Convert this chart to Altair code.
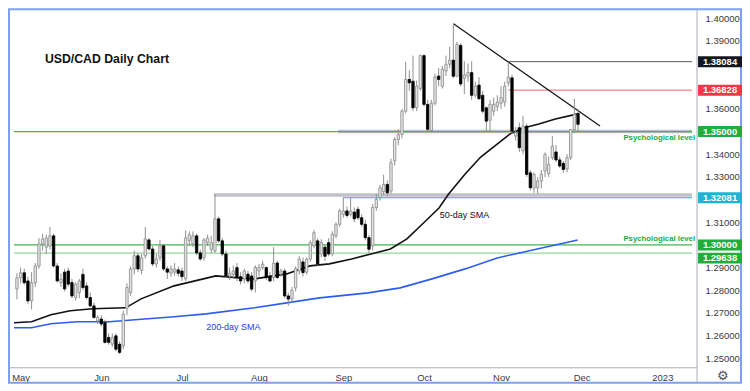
import altair as alt
import pandas as pd

# ---- daily USD/CAD candles, trading-day index 0 = 29 Apr 2022 ... 153 = 30 Nov 2022 ----
opens = [1.2806, 1.2855, 1.2877, 1.2841, 1.2753, 1.2833, 1.2907, 1.3004, 1.2990, 1.2995,
         1.3040, 1.2907, 1.2834, 1.2880, 1.2885, 1.2834, 1.2768, 1.2790, 1.2870, 1.2819,
         1.2768, 1.2731, 1.2665, 1.2673, 1.2658, 1.2592, 1.2562, 1.2599, 1.2562, 1.2555,
         1.2720, 1.2790, 1.2894, 1.2952, 1.2888, 1.2952, 1.3022, 1.2982, 1.2916, 1.2943,
         1.2996, 1.2894, 1.2875, 1.2880, 1.2890, 1.2885, 1.2850, 1.3020, 1.3004, 1.3040,
         1.2965, 1.2943, 1.3010, 1.2980, 1.2974, 1.3115, 1.3018, 1.2960, 1.2863, 1.2870,
         1.2900, 1.2860, 1.2850, 1.2871, 1.2863, 1.2841, 1.2885, 1.2900, 1.2900, 1.2863,
         1.2856, 1.2920, 1.2871, 1.2885, 1.2775, 1.2761, 1.2810, 1.2885, 1.2925, 1.2880,
         1.2937, 1.2996, 1.3018, 1.2960, 1.2990, 1.3010, 1.2960, 1.3040, 1.3091, 1.3135,
         1.3150, 1.3135, 1.3145, 1.3157, 1.3120, 1.3091, 1.3032, 1.2996, 1.3165, 1.3208,
         1.3235, 1.3267, 1.3238, 1.3370, 1.3465, 1.3487, 1.3590, 1.3730, 1.3722, 1.3605,
         1.3690, 1.3835, 1.3620, 1.3505, 1.3625, 1.3745, 1.3700, 1.3767, 1.3797, 1.3815,
         1.3744, 1.3880, 1.3735, 1.3745, 1.3760, 1.3660, 1.3705, 1.3660, 1.3605, 1.3550,
         1.3590, 1.3610, 1.3625, 1.3630, 1.3715, 1.3737, 1.3480, 1.3517, 1.3415, 1.3524,
         1.3318, 1.3250, 1.3252, 1.3282, 1.3326, 1.3315, 1.3385, 1.3410, 1.3375, 1.3360,
         1.3335, 1.3385, 1.3509, 1.3580]
highs = [1.2875, 1.2900, 1.2895, 1.2860, 1.2880, 1.2920, 1.3030, 1.3050, 1.3045, 1.3079,
         1.3050, 1.2920, 1.2875, 1.2895, 1.2900, 1.2850, 1.2835, 1.2850, 1.2895, 1.2835,
         1.2790, 1.2745, 1.2690, 1.2690, 1.2670, 1.2610, 1.2610, 1.2610, 1.2575, 1.2710,
         1.2830, 1.2905, 1.2975, 1.2965, 1.2960, 1.3079, 1.3030, 1.2995, 1.2960, 1.3022,
         1.3005, 1.2905, 1.2910, 1.2920, 1.2905, 1.2900, 1.3065, 1.3060, 1.3060, 1.3050,
         1.2980, 1.3030, 1.3045, 1.3040, 1.3223, 1.3125, 1.3030, 1.2975, 1.2900, 1.2910,
         1.2920, 1.2880, 1.2895, 1.2885, 1.2880, 1.2910, 1.2915, 1.2930, 1.2905, 1.2880,
         1.2990, 1.2930, 1.2895, 1.2895, 1.2790, 1.2815, 1.2905, 1.2950, 1.2945, 1.2945,
         1.3020, 1.3065, 1.3030, 1.3025, 1.3000, 1.3030, 1.3060, 1.3100, 1.3160, 1.3208,
         1.3170, 1.3208, 1.3165, 1.3170, 1.3135, 1.3110, 1.3045, 1.3180, 1.3225, 1.3265,
         1.3310, 1.3285, 1.3380, 1.3475, 1.3510, 1.3600, 1.3808, 1.3770, 1.3835, 1.3725,
         1.3840, 1.3840, 1.3640, 1.3640, 1.3755, 1.3780, 1.3790, 1.3835, 1.3875, 1.3977,
         1.3895, 1.3890, 1.3810, 1.3800, 1.3810, 1.3720, 1.3740, 1.3680, 1.3610, 1.3640,
         1.3650, 1.3660, 1.3700, 1.3720, 1.3808, 1.3750, 1.3520, 1.3540, 1.3570, 1.3535,
         1.3330, 1.3320, 1.3300, 1.3330, 1.3408, 1.3390, 1.3480, 1.3440, 1.3390, 1.3370,
         1.3400, 1.3510, 1.3645, 1.3600]
lows = [1.2760, 1.2830, 1.2825, 1.2740, 1.2715, 1.2815, 1.2895, 1.2975, 1.2960, 1.2980,
        1.2900, 1.2835, 1.2815, 1.2795, 1.2815, 1.2765, 1.2755, 1.2765, 1.2800, 1.2760,
        1.2725, 1.2675, 1.2650, 1.2640, 1.2565, 1.2560, 1.2550, 1.2530, 1.2518, 1.2540,
        1.2690, 1.2775, 1.2870, 1.2880, 1.2870, 1.2940, 1.2975, 1.2905, 1.2900, 1.2930,
        1.2885, 1.2850, 1.2860, 1.2865, 1.2860, 1.2841, 1.2841, 1.2995, 1.2990, 1.2955,
        1.2930, 1.2930, 1.2995, 1.2965, 1.2965, 1.3010, 1.2950, 1.2855, 1.2845, 1.2855,
        1.2840, 1.2825, 1.2830, 1.2830, 1.2795, 1.2790, 1.2860, 1.2890, 1.2845, 1.2835,
        1.2840, 1.2850, 1.2860, 1.2765, 1.2731, 1.2745, 1.2795, 1.2870, 1.2860, 1.2870,
        1.2925, 1.2985, 1.2905, 1.2945, 1.2930, 1.2950, 1.2950, 1.3030, 1.3080, 1.3120,
        1.3120, 1.3125, 1.3100, 1.3110, 1.3080, 1.3020, 1.2965, 1.2975, 1.3150, 1.3195,
        1.3220, 1.3215, 1.3225, 1.3350, 1.3440, 1.3470, 1.3580, 1.3680, 1.3590, 1.3590,
        1.3680, 1.3610, 1.3500, 1.3500, 1.3615, 1.3700, 1.3690, 1.3745, 1.3780, 1.3735,
        1.3740, 1.3700, 1.3665, 1.3720, 1.3640, 1.3650, 1.3640, 1.3580, 1.3500, 1.3500,
        1.3570, 1.3590, 1.3600, 1.3610, 1.3700, 1.3490, 1.3460, 1.3410, 1.3400, 1.3300,
        1.3240, 1.3230, 1.3226, 1.3250, 1.3300, 1.3300, 1.3375, 1.3365, 1.3340, 1.3318,
        1.3320, 1.3375, 1.3495, 1.3500]
closes = [1.2855, 1.2877, 1.2833, 1.2753, 1.2833, 1.2907, 1.3004, 1.3026, 1.3030, 1.3040,
          1.2907, 1.2841, 1.2848, 1.2806, 1.2827, 1.2775, 1.2827, 1.2841, 1.2812, 1.2768,
          1.2731, 1.2680, 1.2680, 1.2651, 1.2570, 1.2570, 1.2592, 1.2540, 1.2526, 1.2695,
          1.2812, 1.2894, 1.2952, 1.2894, 1.2943, 1.3026, 1.2982, 1.2916, 1.2938, 1.2996,
          1.2894, 1.2880, 1.2894, 1.2894, 1.2875, 1.2860, 1.3031, 1.3045, 1.3040, 1.2965,
          1.2938, 1.3022, 1.3030, 1.3010, 1.3115, 1.3018, 1.2960, 1.2863, 1.2875, 1.2885,
          1.2856, 1.2841, 1.2885, 1.2841, 1.2805, 1.2900, 1.2900, 1.2915, 1.2856, 1.2841,
          1.2920, 1.2856, 1.2885, 1.2775, 1.2761, 1.2800, 1.2895, 1.2937, 1.2878, 1.2937,
          1.3010, 1.3054, 1.2915, 1.3010, 1.2950, 1.2960, 1.3047, 1.3091, 1.3150, 1.3150,
          1.3130, 1.3150, 1.3115, 1.3120, 1.3091, 1.3032, 1.2981, 1.3165, 1.3201, 1.3252,
          1.3267, 1.3230, 1.3363, 1.3465, 1.3487, 1.3590, 1.3730, 1.3715, 1.3605, 1.3700,
          1.3835, 1.3620, 1.3510, 1.3625, 1.3740, 1.3730, 1.3775, 1.3797, 1.3815, 1.3744,
          1.3885, 1.3710, 1.3750, 1.3760, 1.3660, 1.3700, 1.3645, 1.3590, 1.3546, 1.3620,
          1.3620, 1.3630, 1.3650, 1.3700, 1.3740, 1.3502, 1.3495, 1.3429, 1.3524, 1.3311,
          1.3252, 1.3311, 1.3282, 1.3311, 1.3399, 1.3355, 1.3436, 1.3375, 1.3348, 1.3333,
          1.3385, 1.3509, 1.3576, 1.3532]

# ---- axis labels ----
month_labels = ["May", "Jun", "Jul", "Aug", "Sep", "Oct", "Nov", "Dec", "2023"]
month_index = [1, 23, 45, 66, 89, 111, 132, 154, 176]
# price labels that are not hidden behind the level tags
price_ticks = [1.25, 1.26, 1.27, 1.28, 1.29, 1.31, 1.33, 1.34,
               1.36, 1.39, 1.40]

# ---- moving averages ----
sma50_x = [-0.8, 3.97, 9.26, 14.55, 20.63, 29.63, 33.86, 42.86, 54.23, 60.32, 64.81,
           73.54, 79.89, 85.19, 91.27, 96.56, 101.85, 106.35, 110.58, 115.08, 117.72,
           122.22, 126.46, 130.95, 134.39, 138.10, 142.33, 146.83, 152.65]
sma50_y = [1.26564, 1.26608, 1.26916, 1.27093, 1.27181, 1.27225, 1.27621, 1.28194,
           1.28634, 1.28546, 1.28502, 1.28722, 1.29075, 1.29163, 1.29383, 1.29604,
           1.29824, 1.30264, 1.30925, 1.31630, 1.32247, 1.33128, 1.33877, 1.34449,
           1.34890, 1.35154, 1.35330, 1.35551, 1.35771]
sma200_x = [-0.8, 3.97, 9.26, 16.4, 25.13, 42.86, 51.59, 64.81, 73.54, 82.54, 95.77,
            104.5, 113.2, 122.2, 130.95, 152.9]
sma200_y = [1.26344, 1.26344, 1.26520, 1.26608, 1.26608, 1.26828, 1.26960, 1.27225,
            1.27445, 1.27665, 1.27885, 1.28106, 1.28502, 1.28943, 1.29427, 1.30220]

# ---- trend line ----
trend_x = [119.05, 159.0]
trend_y = [1.39758, 1.35242]

# ---- horizontal levels ----
level_values = [1.35, 1.32203, 1.38084, 1.36828, 1.35, 1.32081, 1.30, 1.29638]
level_start = [87.6, 53.7, 134, 134, -0.8, 88.9, -0.8, -0.8]
level_kind = ["band", "band", "black", "red", "green", "cyan", "green", "lightgreen"]

tag_values = [1.38084, 1.36828, 1.35, 1.32081, 1.30, 1.29638]
tag_kind = ["black", "red", "green", "cyan", "green", "green"]
tag_shift = [0, 0, 0, 0, 0, 5]   # px: the lowest tag is pushed down clear of its neighbour

# ---- styles ----
X0, X1 = -0.8, 184.1
Y0, Y1 = 1.24581, 1.40396
W, H = 689, 359
line_color = {"band": "#bfc2c9", "black": "#5d5d5d", "red": "#f0606c", "green": "#43b54f",
              "cyan": "#22b3cf", "lightgreen": "#93d69c"}
line_width = {"band": 3.5, "black": 1, "red": 1, "green": 1.3, "cyan": 1, "lightgreen": 1.3}
tag_color = {"black": "#131722", "red": "#f23645", "green": "#1fae3a", "cyan": "#1bb4d3"}
GRAY = "#a9adb6"
FONT = "Liberation Sans"

xs = alt.Scale(domain=[X0, X1], nice=False, zero=False)
ys = alt.Scale(domain=[Y0, Y1], nice=False, zero=False)

labels_js = "[" + ",".join("'%s'" % s for s in month_labels) + "]"
idx_js = "[" + ",".join(str(v) for v in month_index) + "]"

x_axis = alt.Axis(values=month_index, labelExpr="%s[indexof(%s, datum.value)]" % (labels_js, idx_js),
                  grid=False, domain=False, ticks=False, title=None, labelPadding=5,
                  labelFontSize=9.5, labelColor="#3a3a3a", labelFont=FONT, labelFlush=False,
                  labelOverlap=False)
y_axis = alt.Axis(orient="right", values=price_ticks, format=".5f", grid=False, domain=False,
                  ticks=False, title=None, labelPadding=8, labelFontSize=9.5,
                  labelColor="#3a3a3a", labelFont=FONT, labelOverlap=False, labelFlush=False)


def X(field):
    return alt.X(field, scale=xs, axis=x_axis)


def Y(field):
    return alt.Y(field, scale=ys, axis=y_axis)


candles = pd.DataFrame({"i": list(range(len(opens))), "o": opens, "h": highs,
                        "l": lows, "c": closes})
candles["dir"] = ["up" if c >= o else "down" for o, c in zip(opens, closes)]

levels = pd.DataFrame({"v": level_values, "x0": level_start,
                       "x1": [X1] * len(level_values), "kind": level_kind})
levels["col"] = [line_color[k] for k in level_kind]
levels["w"] = [line_width[k] for k in level_kind]

tags = pd.DataFrame({"v": tag_values, "kind": tag_kind, "s": tag_shift})
tags["col"] = [tag_color[k] for k in tag_kind]

sma50 = pd.DataFrame({"x": sma50_x, "y": sma50_y})
sma200 = pd.DataFrame({"x": sma200_x, "y": sma200_y})
trend = pd.DataFrame({"x": trend_x, "y": trend_y})

one = pd.DataFrame({"k": [0]})

frame = alt.Chart(one).mark_rect(fillOpacity=0, stroke="#7fa0f2", strokeWidth=2).encode(
    x=alt.value(0), x2=alt.value(733), y=alt.value(0), y2=alt.value(374))
vsep = alt.Chart(one).mark_rule(color=GRAY, strokeWidth=1).encode(
    x=alt.value(W), y=alt.value(0), y2=alt.value(374))
hsep = alt.Chart(one).mark_rule(color=GRAY, strokeWidth=1).encode(
    x=alt.value(0), x2=alt.value(W), y=alt.value(H))

level_rules = alt.Chart(levels).mark_rule().encode(
    x=X("x0:Q"), x2="x1:Q", y=Y("v:Q"),
    color=alt.Color("col:N", scale=None),
    strokeWidth=alt.StrokeWidth("w:Q", scale=None))

sma200_line = alt.Chart(sma200).mark_line(color="#2d5cf0", strokeWidth=1.6).encode(
    x=X("x:Q"), y=Y("y:Q"))
sma50_line = alt.Chart(sma50).mark_line(color="#111111", strokeWidth=1.6).encode(
    x=X("x:Q"), y=Y("y:Q"))
trend_line = alt.Chart(trend).mark_line(color="#111111", strokeWidth=1.2).encode(
    x=X("x:Q"), y=Y("y:Q"))

wicks = alt.Chart(candles).mark_rule(color="#8f8f8f", strokeWidth=1).encode(
    x=X("i:Q"), y=Y("l:Q"), y2="h:Q")
bodies = alt.Chart(candles).mark_bar(size=2.4, strokeWidth=0.8).encode(
    x=X("i:Q"), y=Y("o:Q"), y2="c:Q",
    fill=alt.Fill("dir:N", scale=alt.Scale(domain=["up", "down"], range=["#e4e4e4", "#000000"]),
                  legend=None),
    stroke=alt.Stroke("dir:N", scale=alt.Scale(domain=["up", "down"], range=["#8a8a8a", "#000000"]),
                      legend=None))

tag_layers = []
for shift in sorted(set(tag_shift)):
    sub = tags[tags["s"] == shift]
    tag_layers.append(alt.Chart(sub).mark_rect(yOffset=shift - 5.5, y2Offset=shift + 5.5).encode(
        x=alt.value(W + 1), x2=alt.value(W + 45), y=Y("v:Q"), y2="v:Q",
        color=alt.Color("col:N", scale=None)))
    tag_layers.append(alt.Chart(sub).mark_text(color="white", fontWeight="bold", fontSize=9.5,
                                               font=FONT, align="center", baseline="middle",
                                               dy=shift).encode(
        x=alt.value(W + 23), y=Y("v:Q"), text=alt.Text("v:Q", format=".5f")))

title = alt.Chart(one).mark_text(text="USD/CAD Daily Chart", font=FONT, fontSize=12.3,
                                 fontWeight="bold", color="#111111", align="left",
                                 baseline="middle").encode(x=alt.value(36), y=alt.value(50))

psy_values = [1.35, 1.30]
psy_dy = [6.5, -6]
psy = [alt.Chart(pd.DataFrame({"v": [v]})).mark_text(
    text="Psychological level", font=FONT, fontSize=7.8, fontWeight="bold", color="#22ab3b",
    align="right", baseline="middle", dy=d).encode(x=alt.value(687), y=Y("v:Q"))
    for v, d in zip(psy_values, psy_dy)]

sma_labels = pd.DataFrame({"x": [115.3, 51.6], "y": [1.3132, 1.2639],
                           "t": ["50-day SMA", "200-day SMA"], "col": ["#111111", "#2440e0"]})
sma_text = alt.Chart(sma_labels).mark_text(font=FONT, fontSize=9, align="left",
                                           baseline="middle").encode(
    x=X("x:Q"), y=Y("y:Q"), text="t:N", color=alt.Color("col:N", scale=None))

gear = alt.Chart(one).mark_text(text="\u2699", fontSize=13, color="#555555",
                                align="center", baseline="middle").encode(
    x=alt.value(W + 26), y=alt.value(H + 8))

chart = alt.layer(
    level_rules, frame, vsep, hsep, sma200_line, sma50_line, trend_line,
    wicks, bodies, *psy, sma_text, title, *tag_layers, gear
).properties(width=W, height=H, padding=0).configure_view(stroke=None)

chart.save("out.html", embed_options={"renderer": "svg", "actions": False})
